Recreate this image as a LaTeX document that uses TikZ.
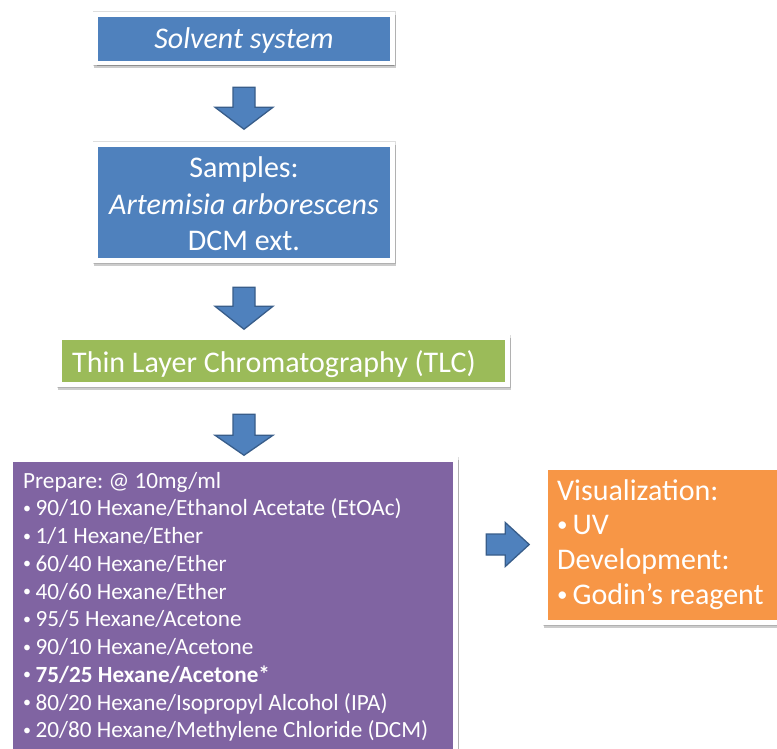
\documentclass[tikz,border=0pt]{standalone}
\usepackage{fontspec}
\setmainfont{Carlito}
\usetikzlibrary{shadows,calc}
\definecolor{boxblue}{HTML}{4F81BD}
\definecolor{arrowedge}{HTML}{385D8A}
\definecolor{boxgreen}{HTML}{9BBB59}
\definecolor{boxpurple}{HTML}{8064A2}
\definecolor{boxorange}{HTML}{F79646}
\newcommand{\blt}[3]{\makebox[#1][l]{\raisebox{#3}{\fontsize{#2}{#2}\selectfont •}}}
\frenchspacing
\begin{document}
\begin{tikzpicture}[x=1pt,y=-1pt,
  box/.style={draw=white, line width=4.5pt, inner sep=0pt,
    preaction={draw=black!13, line width=6pt},
    drop shadow={shadow xshift=1.2pt, shadow yshift=-2.8pt, opacity=0.2,
      fill=black, draw=black, line width=5pt}},
  boxtext/.style={text=white, inner sep=0pt},
  barrow/.style={fill=boxblue, draw=arrowedge, line width=1.3pt, line join=miter},
  bigfont/.style={font=\fontsize{30}{36.5}\selectfont},
  ]
\useasboundingbox (0,0) rectangle (777,749);
\clip (0,0) rectangle (777,749);
\fill[white] (0,0) rectangle (777,749);

% boxes
\node[box, fill=boxblue, minimum width=297pt, minimum height=48.5pt] (solvent) at (244,38.75) {};
\node[box, fill=boxblue, minimum width=297pt, minimum height=116pt] (samples) at (244,202.5) {};
\node[box, fill=boxgreen, minimum width=448pt, minimum height=47pt] (tlc) at (283.5,361) {};
\node[box, fill=boxpurple, minimum width=445pt, minimum height=340.5pt] (prep) at (233,629.75) {};
\node[box, fill=boxorange, minimum width=254.5pt, minimum height=155pt] (vis) at (672.75,545) {};

% texts
\node[boxtext, anchor=base, font=\fontsize{30}{36}\selectfont\itshape] (solventtxt) at (244,49) {Solvent system};
\node[boxtext, anchor=base, bigfont] (samplestxt) at (244,178)
  {\parbox[t]{290pt}{\centering Samples:\\ \textit{Artemisia arborescens}\\ DCM ext.}};
\node[boxtext, anchor=base west, bigfont] (tlctxt) at (72,372) {Thin Layer Chromatography (TLC)};
\node[boxtext, anchor=base west, font=\fontsize{23.2}{27.75}\selectfont] (preptxt) at (23,488)
  {\parbox[t]{430pt}{\raggedright
   Prepare: @ 10mg/ml\\
   \blt{12.5pt}{16}{2.5pt}90/10 Hexane/Ethanol Acetate (EtOAc)\\
   \blt{12.5pt}{16}{2.5pt}1/1 Hexane/Ether\\
   \blt{12.5pt}{16}{2.5pt}60/40 Hexane/Ether\\
   \blt{12.5pt}{16}{2.5pt}40/60 Hexane/Ether\\
   \blt{12.5pt}{16}{2.5pt}95/5 Hexane/Acetone\\
   \blt{12.5pt}{16}{2.5pt}90/10 Hexane/Acetone\\
   \blt{12.5pt}{16}{2.5pt}\textbf{75/25 Hexane/Acetone*}\\
   \blt{12.5pt}{16}{2.5pt}80/20 Hexane/Isopropyl Alcohol (IPA)\\
   \blt{12.5pt}{16}{2.5pt}20/80 Hexane/Methylene Chloride (DCM)}};
\node[boxtext, anchor=base west, font=\fontsize{30}{34.7}\selectfont] (vistxt) at (557,500)
  {\parbox[t]{225pt}{\raggedright
   Visualization:\\
   \blt{15.5pt}{21}{3pt}UV\\
   Development:\\
   \blt{15.5pt}{21}{3pt}Godin’s reagent}};

% block arrows
\coordinate (a1) at ($(solvent.south)+(0,22)$);
\coordinate (a2) at ($(samples.south)+(0,24.5)$);
\coordinate (a3) at ($(tlc.south)+(-39.5,27.5)$);
\coordinate (a4) at ($(prep.east)+(28.5,0)$);
\coordinate (a4) at ($(a4|-vis.center)+(0,-0.5)$);
\draw[barrow, shift={(a1)}] (-11,0) -- (11,0) -- (11,20) -- (29,20) -- (0,42) -- (-29,20) -- (-11,20) -- cycle;
\draw[barrow, shift={(a2)}] (-11,0) -- (11,0) -- (11,19) -- (29,19) -- (0,42) -- (-29,19) -- (-11,19) -- cycle;
\draw[barrow, shift={(a3)}] (-11,0) -- (11,0) -- (11,21) -- (29,21) -- (0,41) -- (-29,21) -- (-11,21) -- cycle;
\draw[barrow, shift={(a4)}] (0,-10.5) -- (19,-10.5) -- (19,-22) -- (43,0) -- (19,22) -- (19,10.5) -- (0,10.5) -- cycle;
\end{tikzpicture}
\end{document}
